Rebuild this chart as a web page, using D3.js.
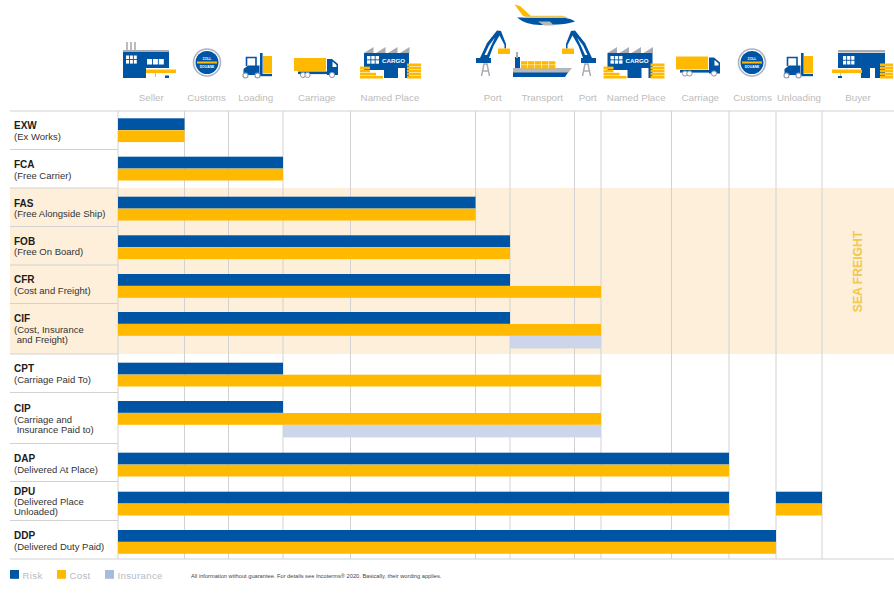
<!DOCTYPE html>
<html>
<head>
<meta charset="utf-8">
<title>Incoterms 2020</title>
<script src="https://cdn.jsdelivr.net/npm/d3@7"></script>
<style>
  html, body { margin: 0; padding: 0; background: #fff; }
  svg { display: block; font-family: "Liberation Sans", Arial, sans-serif; }
  text { white-space: pre; }
</style>
</head>
<body>
<div id="chart"></div>
<script>
// stages of the transport chain, left to right
var stages = ["Seller", "Customs", "Loading", "Carriage", "Named Place", "Port", "Transport", "Port",
              "Named Place", "Carriage", "Customs", "Unloading", "Buyer"];

// terms, values are stage numbers where the responsibility starts / ends
var terms = ["EXW", "FCA", "FAS", "FOB", "CFR", "CIF", "CPT", "CIP", "DAP", "DPU", "DDP"];
var termNames = [
    ["(Ex Works)"],
    ["(Free Carrier)"],
    ["(Free Alongside Ship)"],
    ["(Free On Board)"],
    ["(Cost and Freight)"],
    ["(Cost, Insurance", " and Freight)"],
    ["(Carriage Paid To)"],
    ["(Carriage and", " Insurance Paid to)"],
    ["(Delivered At Place)"],
    ["(Delivered Place", "Unloaded)"],
    ["(Delivered Duty Paid)"]
];
var riskSpans = [
    [[0, 1]], [[0, 3]], [[0, 5]], [[0, 6]], [[0, 6]], [[0, 6]],
    [[0, 3]], [[0, 3]], [[0, 10]], [[0, 10], [11, 12]], [[0, 11]]
];
var costSpans = [
    [[0, 1]], [[0, 3]], [[0, 5]], [[0, 6]], [[0, 8]], [[0, 8]],
    [[0, 8]], [[0, 8]], [[0, 10]], [[0, 10], [11, 12]], [[0, 11]]
];
var insuranceSpans = [[], [], [], [], [], [[6, 8]], [], [[3, 8]], [], [], []];

var legendLabels = ["Risk", "Cost", "Insurance"];
var seaFreightTerms = ["FAS", "FOB", "CFR", "CIF"];
var note = "All information without guarantee. For details see Incoterms\u00AE 2020. Basically, their wording applies.";

// layout: the columns and rows are not even so both scales are piecewise
var width = 894, height = 601;
var stageEdges = [118, 184.5, 228.5, 283, 350.5, 475.5, 510, 574.5, 601, 671.5, 729, 776, 822, 894];
var rowEdges = [111, 149.5, 188, 226.5, 265, 303.5, 354, 392.5, 443.5, 481.5, 520.5, 559];
var barTops = [118.3, 156.7, 196.7, 235.3, 274, 312, 362.7, 401, 452.7, 491.7, 530];
var titleBase = [129, 168, 206.5, 244.5, 283, 322, 372, 412, 462, 494.5, 539];
var barH = 11.8;

var blue = "#0054a4", gold = "#ffb900", pale = "#cdd5ea", band = "#fdefd9",
    grid = "#d2d2d2", grey = "#a9adb3";

var x = d3.scaleLinear().domain(d3.range(stageEdges.length)).range(stageEdges);
var y = d3.scaleLinear().domain(d3.range(rowEdges.length)).range(rowEdges);
var barY = d3.scaleOrdinal().domain(terms).range(barTops);

var svg = d3.select("#chart").append("svg")
    .attr("width", width)
    .attr("height", height)
    .attr("viewBox", [0, 0, width, height]);

// sea freight band
var seaFirst = terms.indexOf(seaFreightTerms[0]);
var seaLast = terms.indexOf(seaFreightTerms[seaFreightTerms.length - 1]);
svg.append("rect")
    .attr("x", 10)
    .attr("y", y(seaFirst))
    .attr("width", width - 10)
    .attr("height", y(seaLast + 1) - y(seaFirst))
    .attr("fill", band);

// grid
svg.append("g").selectAll("line")
    .data(d3.range(stages.length))
    .join("line")
    .attr("x1", function(d) { return x(d); })
    .attr("x2", function(d) { return x(d); })
    .attr("y1", y(0))
    .attr("y2", y(terms.length))
    .attr("stroke", grid);

svg.append("g").selectAll("line")
    .data(d3.range(terms.length + 1))
    .join("line")
    .attr("x1", 10)
    .attr("x2", function(d) { return d == 0 || d == terms.length ? width : x(0); })
    .attr("y1", function(d) { return y(d); })
    .attr("y2", function(d) { return y(d); })
    .attr("stroke", grid)
    .attr("stroke-width", function(d) { return d == 0 || d == terms.length ? 1.2 : 1; });

// bars, one group per term
function drawBars(spans, colour, offset, h) {
    terms.forEach(function(term, i) {
        svg.selectAll(null)
            .data(spans[i])
            .enter()
            .append("rect")
            .attr("x", function(d) { return x(d[0]); })
            .attr("y", barY(term) + offset)
            .attr("width", function(d) { return x(d[1]) - x(d[0]); })
            .attr("height", h)
            .attr("fill", colour);
    });
}
drawBars(insuranceSpans, pale, 24, 12.4);
drawBars(riskSpans, blue, 0, barH);
drawBars(costSpans, gold, 12, barH);

// row labels
var labels = svg.append("g").attr("font-size", 9.5).attr("fill", "#333");
terms.forEach(function(term, i) {
    labels.append("text")
        .attr("x", 14)
        .attr("y", titleBase[i])
        .attr("font-size", 10)
        .attr("font-weight", "bold")
        .attr("fill", "#1c1c1c")
        .text(term);
    termNames[i].forEach(function(line, j) {
        labels.append("text")
            .attr("x", 14)
            .attr("y", titleBase[i] + 10.7 + j * 10)
            .text(line);
    });
});

// stage labels, first Named Place label sits off centre in the original
svg.append("g").selectAll("text")
    .data(stages)
    .join("text")
    .attr("x", function(d, i) { return (x(i) + x(i + 1)) / 2 + (i == 4 ? -23 : 0); })
    .attr("y", function(d, i) { return i == 5 ? 100.5 : 101; })
    .attr("text-anchor", "middle")
    .attr("font-size", 9.8)
    .attr("fill", "#bcbcbc")
    .text(function(d) { return d; });

// sea freight caption
svg.append("text")
    .attr("transform", "translate(861.5,271.5) rotate(-90)")
    .attr("text-anchor", "middle")
    .attr("font-size", 12.2)
    .attr("font-weight", "bold")
    .attr("fill", "#f2c94f")
    .text("SEA FREIGHT");

// legend
var legendColours = [blue, gold, "#a9bbdd"];
var legendX = d3.scaleOrdinal().domain(legendLabels).range([10, 57, 105]);
var legend = svg.append("g").selectAll("g")
    .data(legendLabels)
    .join("g")
    .attr("transform", function(d) { return "translate(" + legendX(d) + ",570)"; });
legend.append("rect")
    .attr("width", 9)
    .attr("height", 8.8)
    .attr("fill", function(d, i) { return legendColours[i]; });
legend.append("text")
    .attr("x", 12.5)
    .attr("y", 8.8)
    .attr("font-size", 9.6)
    .attr("letter-spacing", 0.35)
    .attr("fill", "#b4bac6")
    .text(function(d) { return d; });

svg.append("text")
    .attr("x", 191)
    .attr("y", 578)
    .attr("font-size", 5.7)
    .attr("fill", "#444")
    .text(note);

// ---- pictograms ----
function box(g, x0, y0, w, h, fill) {
    return g.append("rect").attr("x", x0).attr("y", y0).attr("width", w).attr("height", h).attr("fill", fill);
}
function poly(g, d, fill) {
    return g.append("path").attr("d", d).attr("fill", fill);
}
function windows(g, x0, y0, cols, rows, w, h) {
    for (var c = 0; c < cols; c++)
        for (var r = 0; r < rows; r++)
            box(g, x0 + c * (w + 0.9), y0 + r * (h + 0.9), w, h, "#fff");
}
function goods(g, x0, bottom, w, layers) {
    for (var l = 0; l < layers; l++)
        box(g, x0, bottom - (l + 1) * 3.1 + 0.5, w, 2.6, gold);
}
function icon(dx, dy) {
    return svg.append("g").attr("transform", "translate(" + dx + "," + dy + ")");
}

function drawSeller() {
    var g = icon(0, 0);
    [127, 131, 135].forEach(function(c) { box(g, c - 0.8, 42, 1.6, 9, grey); });
    box(g, 123, 50, 46, 2.2, grey);
    poly(g, "M123,52H169V68H146V78H123Z", blue);
    box(g, 165, 75.5, 4, 2.5, blue);
    windows(g, 126, 55.5, 3, 2, 3, 3.6);
    windows(g, 147, 59, 3, 1, 5, 5.5);
    box(g, 146, 69.5, 30, 3.6, gold);
    box(g, 155, 73, 0.8, 4, grey);
}
function drawCustoms(cx) {
    var g = icon(cx, 62.5);
    g.append("circle").attr("r", 13.5).attr("fill", "#fff").attr("stroke", "#a9b4c6").attr("stroke-width", 1.6);
    g.append("circle").attr("r", 11.5).attr("fill", blue);
    box(g, -10, -1, 20, 2, gold);
    g.append("text").attr("y", -3).attr("text-anchor", "middle").attr("font-size", 3.4).attr("font-weight", "bold").attr("fill", "#fff").text("ZOLL");
    g.append("text").attr("y", 5.4).attr("text-anchor", "middle").attr("font-size", 3.4).attr("font-weight", "bold").attr("fill", "#fff").text("DOUANE");
}
function drawForklift(dx) {
    var g = icon(dx, 0);
    box(g, 263, 56, 9, 17.5, gold);
    box(g, 260, 53, 2.6, 23, blue);
    box(g, 260, 74, 12, 2.2, blue);
    g.append("path").attr("d", "M246.5,66V57.5H256V66").attr("fill", "none").attr("stroke", blue).attr("stroke-width", 1.6);
    poly(g, "M243.5,75V69L248,65.5H259.5V75Z", blue);
    [245.5, 257.5].forEach(function(c) {
        g.append("circle").attr("cx", c).attr("cy", 75.5).attr("r", 2.5).attr("fill", "#fff").attr("stroke", "#8e99a8").attr("stroke-width", 1.1);
    });
}
function drawTruck(dx, dy) {
    var g = icon(dx, dy);
    box(g, 294, 58, 32, 13, gold);
    poly(g, "M327,59H332L338,64V75H327Z", blue);
    poly(g, "M332.5,61.5L336.5,65V67H332.5Z", "#fff");
    box(g, 298, 71.5, 30, 2.6, blue);
    [303, 307.5, 332].forEach(function(c) {
        g.append("circle").attr("cx", c).attr("cy", 75).attr("r", 2.6).attr("fill", "#fff").attr("stroke", "#8e99a8").attr("stroke-width", 1);
    });
}
function drawWarehouse(dx) {
    var g = icon(dx, 0);
    [364, 376, 388, 400].forEach(function(s) {
        poly(g, "M" + s + ",53L" + (s + 9.5) + ",47V53Z", grey);
    });
    poly(g, "M364,53H409V78H405V68H398V78H384V70H364Z", blue);
    windows(g, 367, 56, 3, 2, 3.4, 3.4);
    g.append("text").attr("x", 382).attr("y", 62.5).attr("font-size", 6.2).attr("font-weight", "bold").attr("fill", "#fff").text("CARGO");
    goods(g, 360, 78.5, 23, 1);
    goods(g, 360, 75.4, 16, 1);
    goods(g, 360, 72.3, 10, 2);
    goods(g, 407, 78.5, 14, 5);
}
function drawCrane(mirror) {
    // right crane is the left one flipped around the middle of the ship
    var g = mirror ? svg.append("g").attr("transform", "translate(1072,0) scale(-1,1)") : icon(0, 0);
    g.append("path").attr("d", "M481.5,76L484,64H487L489.5,76M482.5,71H488.5").attr("fill", "none").attr("stroke", grey).attr("stroke-width", 1.5);
    box(g, 476, 58, 15, 5, blue);
    poly(g, "M480,58L487,43L497,30.5L501,31L506,44V48.5H504.5V45L499.5,35.5L493.5,46L489,58Z", blue);
    poly(g, "M484.5,55L489,45.5L495,37.5L490.5,47L487,55Z", "#fff");
    box(g, 498, 48.5, 12, 5.5, gold);
}
function drawShip() {
    var g = icon(0, 0);
    poly(g, "M513,68H572L568,73H513Z", "#b4b8bd");
    poly(g, "M513,72.5H568L565,77H513Z", blue);
    box(g, 515, 57, 5, 11, blue);
    box(g, 516, 52, 2, 6, grey);
    for (var c = 0; c < 5; c++)
        for (var r = 0; r < 2; r++)
            box(g, 521 + c * 7, 61.2 + r * 3.9, 6.4, 3.4, gold);
}
function drawPlane() {
    var g = icon(0, 0);
    poly(g, "M514.5,4.5L520,6L531,16H523Z", gold);
    poly(g, "M517,17.5H562Q572,18.5 575,21.5Q566,25 540,25Q526,25 517,17.5Z", blue);
    poly(g, "M526,15.8H562Q566,16.2 568,18H522Z", "#e9c65a");
    poly(g, "M538,21.5H550L554,25.5H544Z", "#b4b8bd");
}
function drawBuyer() {
    var g = icon(0, 0);
    box(g, 838, 50, 47, 2.5, grey);
    poly(g, "M838,53H885V78H875V68H870V78H861V68H838Z", blue);
    windows(g, 843, 56, 3, 2, 3.2, 3.8);
    box(g, 832, 69.5, 30, 3.6, gold);
    box(g, 840, 73, 0.8, 4, grey);
    box(g, 838, 76, 4, 2, blue);
    goods(g, 880, 78.5, 13, 5);
}

drawSeller();
drawCustoms(207);
drawForklift(0);
drawTruck(0, 0);
drawWarehouse(0);
drawCrane(false);
drawCrane(true);
drawShip();
drawPlane();
drawWarehouse(243.5);
drawTruck(382, -1.5);
drawCustoms(752);
drawForklift(541);
drawBuyer();
</script>
</body>
</html>
